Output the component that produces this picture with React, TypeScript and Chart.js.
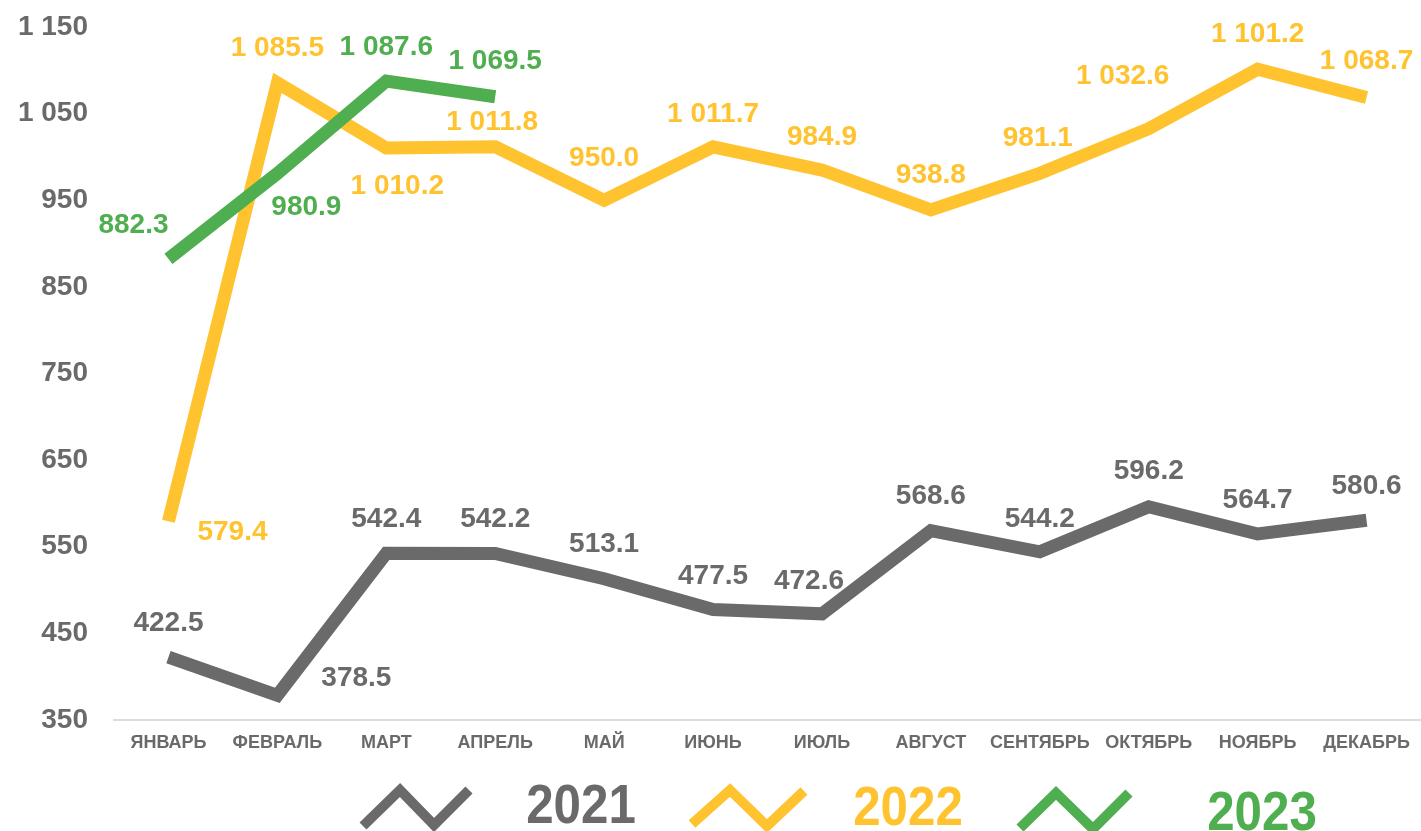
import { useEffect, useRef } from "react";
import { Chart, registerables } from "chart.js";

Chart.register(...registerables);

const months = [
  "ЯНВАРЬ", "ФЕВРАЛЬ", "МАРТ", "АПРЕЛЬ", "МАЙ", "ИЮНЬ",
  "ИЮЛЬ", "АВГУСТ", "СЕНТЯБРЬ", "ОКТЯБРЬ", "НОЯБРЬ", "ДЕКАБРЬ",
];

const values2021 = [422.5, 378.5, 542.4, 542.2, 513.1, 477.5, 472.6, 568.6, 544.2, 596.2, 564.7, 580.6];
const values2022 = [579.4, 1085.5, 1010.2, 1011.8, 950.0, 1011.7, 984.9, 938.8, 981.1, 1032.6, 1101.2, 1068.7];
const values2023 = [882.3, 980.9, 1087.6, 1069.5];

const yearNames = ["2021", "2022", "2023"];

const yMin = 350;
const yMax = 1150;
const yStep = 100;

const GRAY = "#6a6a6a";
const YELLOW = "#FFC32F";
const GREEN = "#4FAE4F";
const FONT = "'Liberation Sans', Arial, Helvetica, sans-serif";

// label placement offsets (pixels relative to point)
const offsets2021: [number, number][] = [
  [0, -34], [79, -17], [0, -34], [0, -34], [0, -34], [0, -33],
  [-13, -33], [0, -34], [0, -32], [0, -35], [0, -34], [0, -34],
];
const offsets2022: [number, number][] = [
  [64, 11], [0, -35], [11, 38], [-3, -24], [0, -42], [0, -33],
  [0, -33], [0, -35], [-2, -35], [-26, -52], [0, -35], [0, -36],
];
const offsets2023: [number, number][] = [[-35, -34], [29, 34], [0, -34], [0, -35]];

function fmt(v: number, decimals: number): string {
  const s = v.toFixed(decimals);
  const [intPart, dec] = s.split(".");
  const withSpaces = intPart.replace(/\B(?=(\d{3})+(?!\d))/g, " ");
  return dec !== undefined ? `${withSpaces}.${dec}` : withSpaces;
}

const dataLabelPlugin = {
  id: "customDataLabels",
  afterDatasetsDraw(chart: any) {
    const ctx = chart.ctx;
    ctx.save();
    ctx.font = `bold 28px ${FONT}`;
    ctx.textAlign = "center";
    ctx.textBaseline = "middle";
    chart.data.datasets.forEach((ds: any, i: number) => {
      const meta = chart.getDatasetMeta(i);
      const offs: [number, number][] = ds.labelOffsets || [];
      ctx.fillStyle = ds.borderColor;
      meta.data.forEach((pt: any, j: number) => {
        const v = ds.data[j];
        if (v == null) return;
        const [dx, dy] = offs[j] || [0, -34];
        ctx.fillText(fmt(v, 1), pt.x + dx, pt.y + dy);
      });
    });
    ctx.restore();
  },
};

const legendColors = [GRAY, YELLOW, GREEN];
const legendIcons: number[][][] = [
  [[363, 826], [400, 790], [434, 825], [469, 790]],
  [[692, 824], [730, 790], [767, 826], [804, 791]],
  [[1020, 828], [1056, 793], [1093, 829], [1129, 793]],
];
const legendTextPos: [number, number][] = [[581, 808], [908, 810], [1262, 815]];

const bigLegendPlugin = {
  id: "bigLegend",
  afterDraw(chart: any) {
    const ctx = chart.ctx;
    ctx.save();
    yearNames.forEach((name, i) => {
      const pts = legendIcons[i];
      ctx.strokeStyle = legendColors[i];
      ctx.lineWidth = 10;
      ctx.lineJoin = "miter";
      ctx.lineCap = "butt";
      ctx.beginPath();
      pts.forEach(([x, y], k) => (k === 0 ? ctx.moveTo(x, y) : ctx.lineTo(x, y)));
      ctx.stroke();

      const [tx, ty] = legendTextPos[i];
      ctx.save();
      ctx.translate(tx, ty);
      ctx.scale(0.88, 1);
      ctx.font = `bold 56px ${FONT}`;
      ctx.textAlign = "center";
      ctx.textBaseline = "middle";
      ctx.fillStyle = legendColors[i];
      ctx.fillText(name, 0, 0);
      ctx.restore();
    });
    ctx.restore();
  },
};

export default function App() {
  const canvasRef = useRef<HTMLCanvasElement | null>(null);

  useEffect(() => {
    document.body.style.margin = "0";
    const canvas = canvasRef.current;
    if (!canvas) return;
    const chart = new Chart(canvas, {
      type: "line",
      data: {
        labels: months,
        datasets: [
          {
            label: yearNames[0],
            data: values2021,
            borderColor: GRAY,
            backgroundColor: GRAY,
            borderWidth: 13,
            pointRadius: 0,
            pointHoverRadius: 0,
            tension: 0,
            borderJoinStyle: "miter",
            borderCapStyle: "butt",
            order: 3,
            labelOffsets: offsets2021,
          } as any,
          {
            label: yearNames[1],
            data: values2022,
            borderColor: YELLOW,
            backgroundColor: YELLOW,
            borderWidth: 13,
            pointRadius: 0,
            pointHoverRadius: 0,
            tension: 0,
            borderJoinStyle: "miter",
            borderCapStyle: "butt",
            order: 2,
            labelOffsets: offsets2022,
          } as any,
          {
            label: yearNames[2],
            data: values2023,
            borderColor: GREEN,
            backgroundColor: GREEN,
            borderWidth: 13,
            pointRadius: 0,
            pointHoverRadius: 0,
            tension: 0,
            borderJoinStyle: "miter",
            borderCapStyle: "butt",
            order: 1,
            labelOffsets: offsets2023,
          } as any,
        ],
      },
      options: {
        responsive: false,
        animation: false,
        devicePixelRatio: 1,
        layout: { padding: { top: 27, left: 0, right: -4, bottom: 0 } },
        plugins: {
          legend: { display: false },
          tooltip: { enabled: false },
        },
        scales: {
          x: {
            offset: true,
            grid: { display: false, drawTicks: false },
            border: { display: true, color: "#dcdcdc", width: 2 },
            ticks: {
              color: GRAY,
              font: { family: FONT, size: 18, weight: "bold" },
              padding: 12,
              maxRotation: 0,
              autoSkip: false,
            },
            afterFit: (s: any) => {
              s.height = 111;
              s.paddingLeft = 0;
              s.paddingRight = 0;
            },
          },
          y: {
            min: yMin,
            max: yMax,
            grid: { display: false, drawTicks: false },
            border: { display: false },
            ticks: {
              stepSize: yStep,
              color: GRAY,
              font: { family: FONT, size: 28, weight: "bold" },
              padding: 26,
              callback: (v: any) => fmt(Number(v), 0),
            },
            afterFit: (s: any) => {
              s.width = 114;
              s.paddingTop = 0;
              s.paddingBottom = 0;
            },
          },
        },
      },
      plugins: [dataLabelPlugin, bigLegendPlugin],
    });
    return () => chart.destroy();
  }, []);

  return (
    <canvas
      ref={canvasRef}
      width={1421}
      height={831}
      style={{ display: "block", width: "1421px", height: "831px" }}
    />
  );
}
